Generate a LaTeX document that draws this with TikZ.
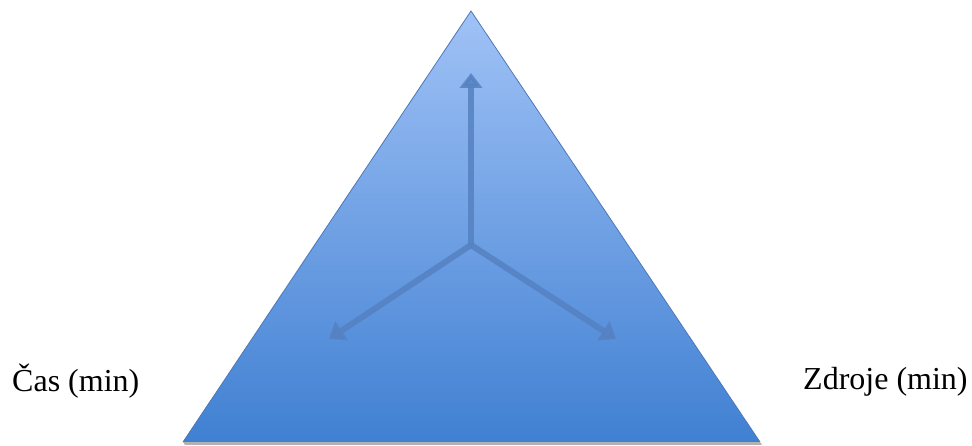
\documentclass[tikz,border=0pt]{standalone}
\usepackage{fontspec}
\setmainfont{Liberation Serif}
\usetikzlibrary{arrows.meta}
\definecolor{toptri}{HTML}{A0C2F6}
\definecolor{bottri}{HTML}{4080D2}
\definecolor{edgetri}{HTML}{4C78B8}
\definecolor{arrowc}{HTML}{5581C2}
\tikzset{
  x=1pt,y=1pt,
  axisarrow/.style={draw=arrowc, line width=6pt, opacity=0.85,
    -{Triangle[width=22pt,length=15pt]}},
  label/.style={font=\fontsize{32}{36}\selectfont, inner sep=0pt, anchor=base west}
}
\begin{document}
\begin{tikzpicture}
\useasboundingbox (0,0) rectangle (972,446);
\coordinate (apex) at (471,435);
\coordinate (bl) at (183,4);
\coordinate (br) at (760,4);
\coordinate (c) at (471,201);
\coordinate (t1) at (471,373);
\coordinate (t2) at (329,107);
\coordinate (t3) at (616,107);
% shadow
\fill[black!30] (185,1) -- (762,1) -- (760,4) -- (183,4) -- cycle;
\shade[top color=toptri, bottom color=bottri] (apex) -- (br) -- (bl) -- cycle;
\draw[edgetri, line width=0.8pt] (bl) -- (apex) -- (br);
\draw[axisarrow] (c) -- (t1);
\draw[axisarrow] (c) -- (t2);
\draw[axisarrow] (c) -- (t3);
\node[label] (cas) at (12,54) {Čas (min)};
\node[label] (zdroje) at (803,56) {Zdroje (min)};
\end{tikzpicture}
\end{document}
